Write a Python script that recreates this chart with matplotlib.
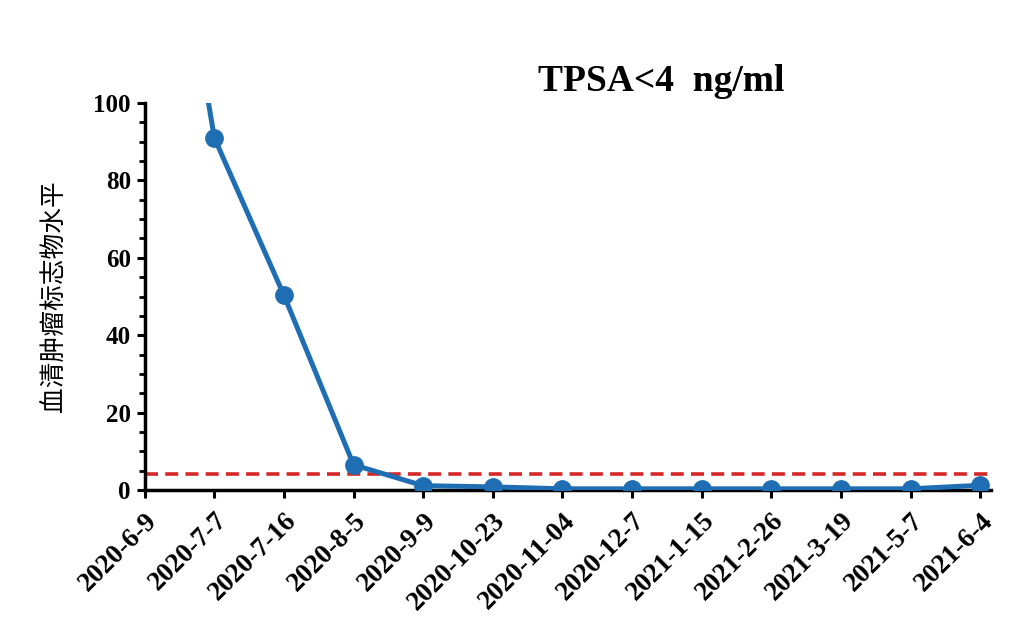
import numpy as np
import matplotlib.pyplot as plt
from matplotlib.ticker import MultipleLocator

# -----------------------------
# Data
# -----------------------------
dates = ["2020-6-9", "2020-7-7", "2020-7-16", "2020-8-5", "2020-9-9",
         "2020-10-23", "2020-11-04", "2020-12-7", "2021-1-15", "2021-2-26",
         "2021-3-19", "2021-5-7", "2021-6-4"]
tpsa = [198, 91, 50.3, 6.5, 1.1, 0.8, 0.3, 0.3, 0.3, 0.3, 0.3, 0.3, 1.2]
threshold = 4

serif = ["Liberation Serif", "DejaVu Serif"]
cjk = ["Noto Sans CJK SC", "DejaVu Sans"]

# -----------------------------
# Plot
# -----------------------------
fig = plt.figure(figsize=(10.34, 6.21), dpi=100)
ax = fig.add_axes([0.140, 0.211, 0.818, 0.623])

x = np.arange(len(dates))
ax.axhline(threshold, color="#D62728", linestyle=(0, (3.6, 2)), linewidth=2.6, zorder=2)
ax.plot(x, tpsa, color="#1F6EB4", linewidth=3.6, marker="o", markersize=12.5, zorder=3)

ax.set_xlim(0, len(dates) - 1 + 0.15)
ax.set_ylim(0, 100)
ax.set_xticks(x)
ax.set_xticklabels(dates, rotation=45, ha="right", rotation_mode="anchor",
                   fontfamily=serif, fontweight="bold", fontsize=19.5)
ax.yaxis.set_major_locator(MultipleLocator(20))
ax.yaxis.set_minor_locator(MultipleLocator(5))
for lab in ax.get_yticklabels():
    lab.set_fontfamily(serif)
    lab.set_fontweight("bold")
    lab.set_fontsize(18)

ax.spines["top"].set_visible(False)
ax.spines["right"].set_visible(False)
ax.spines["left"].set_linewidth(2.5)
ax.spines["bottom"].set_linewidth(2.5)
ax.tick_params(axis="x", which="major", direction="out", length=6, width=2.2, pad=7)
ax.tick_params(axis="y", which="major", direction="out", length=6, width=2.2, pad=4)
ax.tick_params(axis="y", which="minor", direction="out", length=4, width=2)

ax.set_ylabel("血清肿瘤标志物水平", fontfamily=cjk, fontweight="medium",
              fontsize=18.5, labelpad=19)

fig.text(0.639, 0.868, "TPSA<4  ng/ml", ha="center", va="center",
         fontfamily=serif, fontweight="bold", fontsize=27)

plt.savefig("out.png", dpi=100)
plt.close()
